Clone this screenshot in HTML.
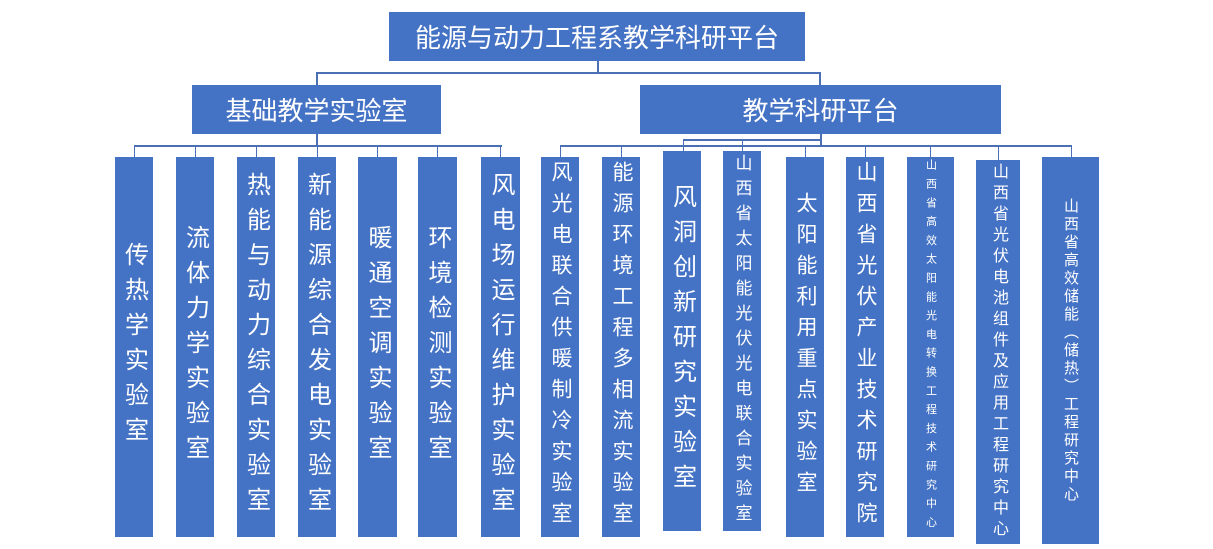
<!DOCTYPE html>
<html><head><meta charset="utf-8"><style>
body{margin:0;width:1213px;height:549px;background:#fff;position:relative;overflow:hidden;font-family:"Liberation Sans","Noto Sans CJK SC",sans-serif}
.b{position:absolute;background:#4472c4;color:#fff;display:flex;align-items:center;justify-content:center}
.v{writing-mode:vertical-rl;text-orientation:upright;white-space:nowrap}
.l{position:absolute;background:#4a6fb5}
</style></head><body>
<!-- connectors -->
<div class="l" style="left:597px;top:61px;width:2px;height:13px"></div>
<div class="l" style="left:316px;top:72px;width:505px;height:2px"></div>
<div class="l" style="left:316px;top:72px;width:2px;height:13px"></div>
<div class="l" style="left:819px;top:72px;width:2px;height:13px"></div>
<div class="l" style="left:316px;top:134px;width:2px;height:12px"></div>
<div class="l" style="left:134px;top:145px;width:368px;height:2px"></div>
<div class="l" style="left:134px;top:145px;width:1px;height:12px"></div>
<div class="l" style="left:195px;top:145px;width:1px;height:12px"></div>
<div class="l" style="left:256px;top:145px;width:1px;height:12px"></div>
<div class="l" style="left:317px;top:145px;width:1px;height:12px"></div>
<div class="l" style="left:377px;top:145px;width:1px;height:12px"></div>
<div class="l" style="left:437px;top:145px;width:1px;height:12px"></div>
<div class="l" style="left:500px;top:145px;width:1px;height:12px"></div>
<div class="l" style="left:820px;top:134px;width:2px;height:12px"></div>
<div class="l" style="left:683px;top:139px;width:138px;height:2px"></div>
<div class="l" style="left:683px;top:139px;width:1px;height:12px"></div>
<div class="l" style="left:742px;top:139px;width:1px;height:12px"></div>
<div class="l" style="left:560px;top:145px;width:512px;height:2px"></div>
<div class="l" style="left:560px;top:145px;width:1px;height:12px"></div>
<div class="l" style="left:621px;top:145px;width:1px;height:12px"></div>
<div class="l" style="left:805px;top:145px;width:1px;height:12px"></div>
<div class="l" style="left:865px;top:145px;width:1px;height:12px"></div>
<div class="l" style="left:930px;top:145px;width:1px;height:12px"></div>
<div class="l" style="left:998px;top:145px;width:1px;height:15px"></div>
<div class="l" style="left:1071px;top:145px;width:1px;height:12px"></div>

<div class="b" style="left:389px;top:12px;width:416px;height:49px;font-size:26px">能源与动力工程系教学科研平台</div>
<div class="b" style="left:192px;top:85px;width:249px;height:49px;font-size:26px">基础教学实验室</div>
<div class="b" style="left:640px;top:85px;width:361px;height:49px;font-size:26px">教学科研平台</div>

<div class="b" style="left:115px;top:157px;width:38px;height:380px"><span class="v" style="font-size:24px;letter-spacing:11px">传热学实验室</span></div>
<div class="b" style="left:176px;top:157px;width:38px;height:380px"><span class="v" style="font-size:24px;letter-spacing:11px">流体力学实验室</span></div>
<div class="b" style="left:237px;top:157px;width:38px;height:380px"><span class="v" style="font-size:24px;letter-spacing:11px">热能与动力综合实验室</span></div>
<div class="b" style="left:298px;top:157px;width:38px;height:380px"><span class="v" style="font-size:24px;letter-spacing:11px">新能源综合发电实验室</span></div>
<div class="b" style="left:358px;top:157px;width:39px;height:380px"><span class="v" style="font-size:24px;letter-spacing:11px">暖通空调实验室</span></div>
<div class="b" style="left:418px;top:157px;width:39px;height:380px"><span class="v" style="font-size:24px;letter-spacing:11px">环境检测实验室</span></div>
<div class="b" style="left:481px;top:157px;width:39px;height:380px"><span class="v" style="font-size:24px;letter-spacing:11px">风电场运行维护实验室</span></div>

<div class="b" style="left:541px;top:157px;width:38px;height:380px"><span class="v" style="font-size:21px;letter-spacing:10px">风光电联合供暖制冷实验室</span></div>
<div class="b" style="left:602px;top:157px;width:38px;height:380px"><span class="v" style="font-size:21px;letter-spacing:10px">能源环境工程多相流实验室</span></div>
<div class="b" style="left:663px;top:151px;width:38px;height:380px"><span class="v" style="font-size:24px;letter-spacing:11px">风洞创新研究实验室</span></div>
<div class="b" style="left:723px;top:151px;width:38px;height:380px"><span class="v" style="font-size:17px;letter-spacing:8px">山西省太阳能光伏光电联合实验室</span></div>
<div class="b" style="left:786px;top:157px;width:38px;height:380px"><span class="v" style="font-size:21px;letter-spacing:10px">太阳能利用重点实验室</span></div>
<div class="b" style="left:846px;top:157px;width:38px;height:380px"><span class="v" style="font-size:21px;letter-spacing:10px">山西省光伏产业技术研究院</span></div>
<div class="b" style="left:907px;top:157px;width:47px;height:380px"><span class="v" style="font-size:11px;letter-spacing:7.8px">山西省高效太阳能光电转换工程技术研究中心</span></div>
<div class="b" style="left:976px;top:160px;width:44px;height:384px"><span class="v" style="font-size:16px;letter-spacing:5px">山西省光伏电池组件及应用工程研究中心</span></div>
<div class="b" style="left:1042px;top:157px;width:57px;height:387px"><span class="v" style="font-size:15px;letter-spacing:3px">山西省高效储能（储热）工程研究中心</span></div>
</body></html>
